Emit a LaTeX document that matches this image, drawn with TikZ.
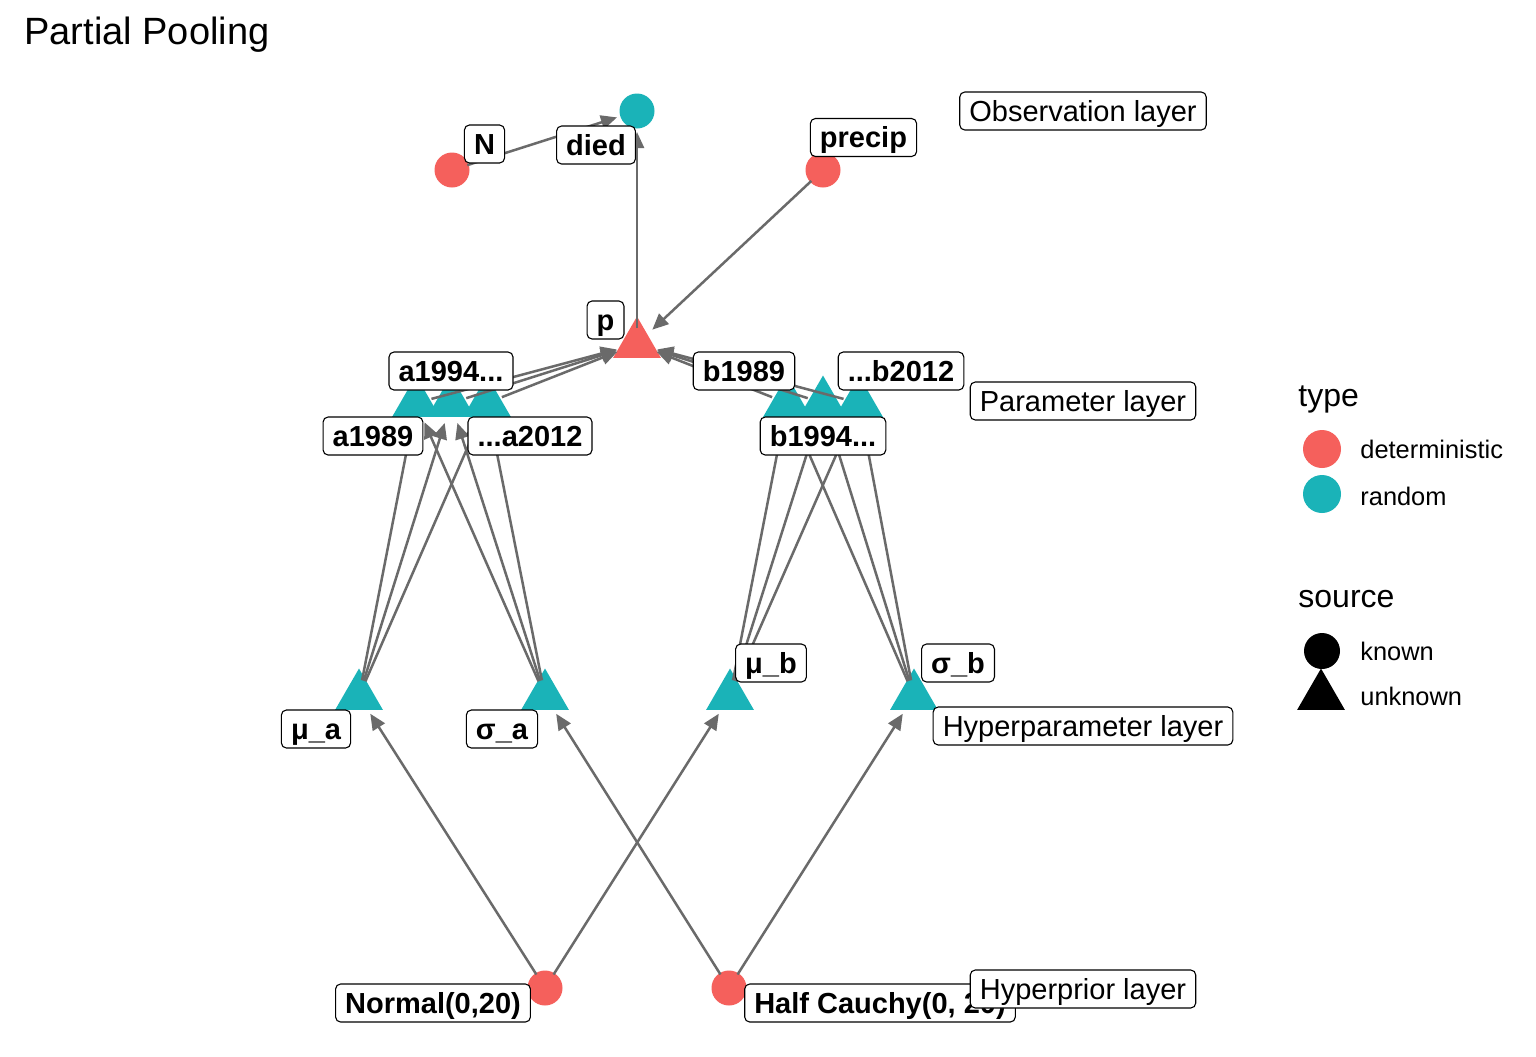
\documentclass[tikz,border=0pt]{standalone}
\usepackage{fontspec}
\setmainfont{Liberation Sans}
\usetikzlibrary{arrows.meta,shapes.geometric}
\definecolor{detred}{HTML}{F5605C}
\definecolor{randteal}{HTML}{1AB3B8}
\definecolor{edgegray}{HTML}{6A6A6A}
\begin{document}
\begin{tikzpicture}[x=0.5pt,y=-0.5pt,
  dot/.style={circle,minimum size=17.5pt,inner sep=0pt,draw=none},
  tri/.style={regular polygon,regular polygon sides=3,minimum size=27.5pt,inner sep=0pt,draw=none},
  lbl/.style={draw=black,fill=white,rounded corners=2.5pt,line width=0.55pt,
    font=\fontsize{14.5}{16}\selectfont\bfseries,inner xsep=4.8pt,inner ysep=0pt,
    text height=12pt,text depth=1.8pt,minimum height=19pt},
  layer/.style={lbl,font=\fontsize{14.5}{16}\selectfont},
  edge/.style={draw=edgegray,line width=1.25pt,-{Triangle[length=8pt,width=7pt]},
    shorten <=8pt,shorten >=10.5pt},
  legtitle/.style={anchor=base west,font=\fontsize{16}{18}\selectfont,inner sep=0pt},
  legtext/.style={anchor=base west,font=\fontsize{12.7}{14}\selectfont,inner sep=0pt},
]
\fill[white] (0,0) rectangle (1536,1056);
\useasboundingbox (0,0) rectangle (1536,1056);

\node[anchor=base west,font=\fontsize{19}{21}\selectfont,inner sep=0pt] (title) at (24,44) {Partial Pooling};

% graph nodes
\node[dot,fill=detred] (N) at (452,170) {};
\node[dot,fill=randteal] (died) at (637,111) {};
\node[dot,fill=detred] (precip) at (823,170) {};
\node[tri,fill=detred] (p) at (637,344) {};
\node[tri,fill=randteal] (a1) at (416,403) {};
\node[tri,fill=randteal] (a2) at (451,403) {};
\node[tri,fill=randteal] (a3) at (487,403) {};
\node[tri,fill=randteal] (b1) at (787,403) {};
\node[tri,fill=randteal] (b2) at (823,403) {};
\node[tri,fill=randteal] (b3) at (859,403) {};
\node[tri,fill=randteal] (mua) at (359,696) {};
\node[tri,fill=randteal] (siga) at (545,696) {};
\node[tri,fill=randteal] (mub) at (730,696) {};
\node[tri,fill=randteal] (sigb) at (914,696) {};
\node[dot,fill=detred] (normal) at (545,988) {};
\node[dot,fill=detred] (cauchy) at (729,988) {};

% edges
\draw[edge] (N.center) -- (died.center);
\draw[edge] (p.center) -- (died.center);
\draw[edge] (precip.center) -- (p.center);
\foreach \s in {a1,a2,a3,b1,b2,b3} \draw[edge] (\s.center) -- (p.center);
\foreach \t in {a1,a2,a3} {
  \draw[edge] (mua.center) -- (\t.center);
  \draw[edge] (siga.center) -- (\t.center);
}
\foreach \t in {b1,b2,b3} {
  \draw[edge] (mub.center) -- (\t.center);
  \draw[edge] (sigb.center) -- (\t.center);
}
\draw[edge] (normal.center) -- (mua.center);
\draw[edge] (normal.center) -- (mub.center);
\draw[edge] (cauchy.center) -- (siga.center);
\draw[edge] (cauchy.center) -- (sigb.center);

% labels
\node[lbl] (lN) at (484.5,144) {N};
\node[lbl] (ldied) at (596,145) {died};
\node[lbl] (lprecip) at (863.5,137.5) {precip};
\node[lbl] (lp) at (605.5,320) {p};
\node[lbl] (la2) at (451,371) {a1994...};
\node[lbl] (la1) at (373,436) {a1989};
\node[lbl] (la3) at (530,436) {...a2012};
\node[lbl] (lb1) at (744,371) {b1989};
\node[lbl] (lb3) at (901,371) {...b2012};
\node[lbl] (lb2) at (823,436) {b1994...};
\node[lbl] (lmua) at (316,729) {μ\_a};
\node[lbl] (lsiga) at (502,729) {σ\_a};
\node[lbl] (lmub) at (771,663) {μ\_b};
\node[lbl] (lsigb) at (958,663) {σ\_b};
\node[lbl] (lnormal) at (433,1003) {Normal(0,20)};
\node[lbl] (lcauchy) at (880,1003) {Half Cauchy(0, 20)};

% layer labels
\node[layer] (obs) at (1083,111) {Observation layer};
\node[layer] (par) at (1083,401) {Parameter layer};
\node[layer] (hyp) at (1083,726) {Hyperparameter layer};
\node[layer] (hpr) at (1083,989) {Hyperprior layer};

% legend
\node[legtitle] (typeT) at (1298,406) {type};
\node[dot,minimum size=19pt,fill=detred] (kdet) at (1322,449) {};
\node[legtext] (ldet) at (1360,458) {deterministic};
\node[dot,minimum size=19pt,fill=randteal] (krand) at (1322,494) {};
\node[legtext] (lrand) at (1360,505) {random};
\node[legtitle] (sourceT) at (1298,607) {source};
\node[dot,minimum size=18pt,fill=black] (kknown) at (1322,651) {};
\node[legtext] (lknown) at (1360,660) {known};
\node[tri,fill=black] (kunknown) at (1321,696) {};
\node[legtext] (lunknown) at (1360,705) {unknown};
\end{tikzpicture}
\end{document}
